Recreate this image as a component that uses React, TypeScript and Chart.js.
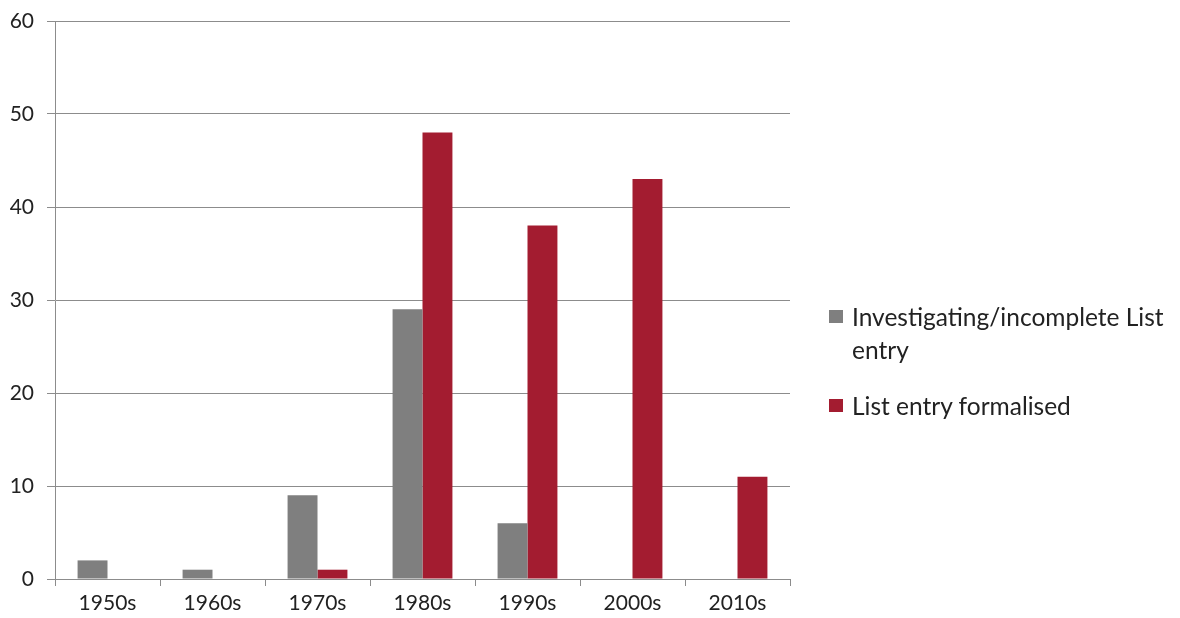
import React, { useEffect, useRef } from "react";
import { Chart, registerables } from "chart.js";

Chart.register(...registerables);

const categories = ["1950s", "1960s", "1970s", "1980s", "1990s", "2000s", "2010s"];
const investigating = [2, 1, 9, 29, 6, 0, 0];
const formalised = [0, 0, 1, 48, 38, 43, 11];
const seriesNames = ["Investigating/incomplete List entry", "List entry formalised"];
const seriesColors = ["#7f7f7f", "#a31c30"];
const yTicks = [0, 10, 20, 30, 40, 50, 60];

const FONT = "Lato, 'Open Sans', sans-serif";

export default function App() {
  const ref = useRef<HTMLCanvasElement | null>(null);
  useEffect(() => {
    if (!ref.current) return;
    const chart = new Chart(ref.current, {
      type: "bar",
      data: {
        labels: categories,
        datasets: [
          { label: seriesNames[0], data: investigating, backgroundColor: seriesColors[0], borderWidth: 0 },
          { label: seriesNames[1], data: formalised, backgroundColor: seriesColors[1], borderWidth: 0 },
        ],
      },
      options: {
        animation: false,
        responsive: false,
        maintainAspectRatio: false,
        datasets: { bar: { categoryPercentage: 0.57, barPercentage: 1 } },
        layout: { padding: { top: 13, right: 382, left: 0, bottom: 0 } },
        plugins: { legend: { display: false }, tooltip: { enabled: false } },
        scales: {
          x: {
            grid: { offset: true, drawOnChartArea: false, drawTicks: true, tickLength: 7, color: "#8c8c8c" },
            border: { color: "#8c8c8c", width: 1 },
            ticks: { color: "#222", font: { family: FONT, size: 21 }, padding: 5, maxRotation: 0 },
            afterFit: (s: any) => { s.height = 31; s.paddingLeft = 0; s.paddingRight = 0; },
          },
          y: {
            min: 0,
            max: 60,
            afterBuildTicks: (s: any) => { s.ticks = yTicks.map((v) => ({ value: v })); },
            grid: { color: "#8c8c8c", tickLength: 8, lineWidth: 1 },
            border: { color: "#8c8c8c", width: 1 },
            ticks: { color: "#222", font: { family: FONT, size: 21 }, padding: 13 },
            afterFit: (s: any) => { s.width = 47; s.paddingTop = 0; s.paddingBottom = 0; },
          },
        },
      },
    });
    return () => chart.destroy();
  }, []);

  const legendItem = (i: number, top: number) => (
    <div key={i} style={{ position: "absolute", left: 821, top, display: "flex", alignItems: "flex-start" }}>
      <div style={{ width: 14, height: 13, background: seriesColors[i], marginTop: 10, marginRight: 9, flex: "none" }} />
      <div style={{ width: 335, fontFamily: FONT, fontSize: 24.5, lineHeight: "33px", color: "#222" }}>{seriesNames[i]}</div>
    </div>
  );

  return (
    <div style={{ position: "relative", width: 1164, height: 602 }}>
      <canvas ref={ref} width={1164} height={602} />
      {legendItem(0, 292)}
      {legendItem(1, 381)}
    </div>
  );
}
